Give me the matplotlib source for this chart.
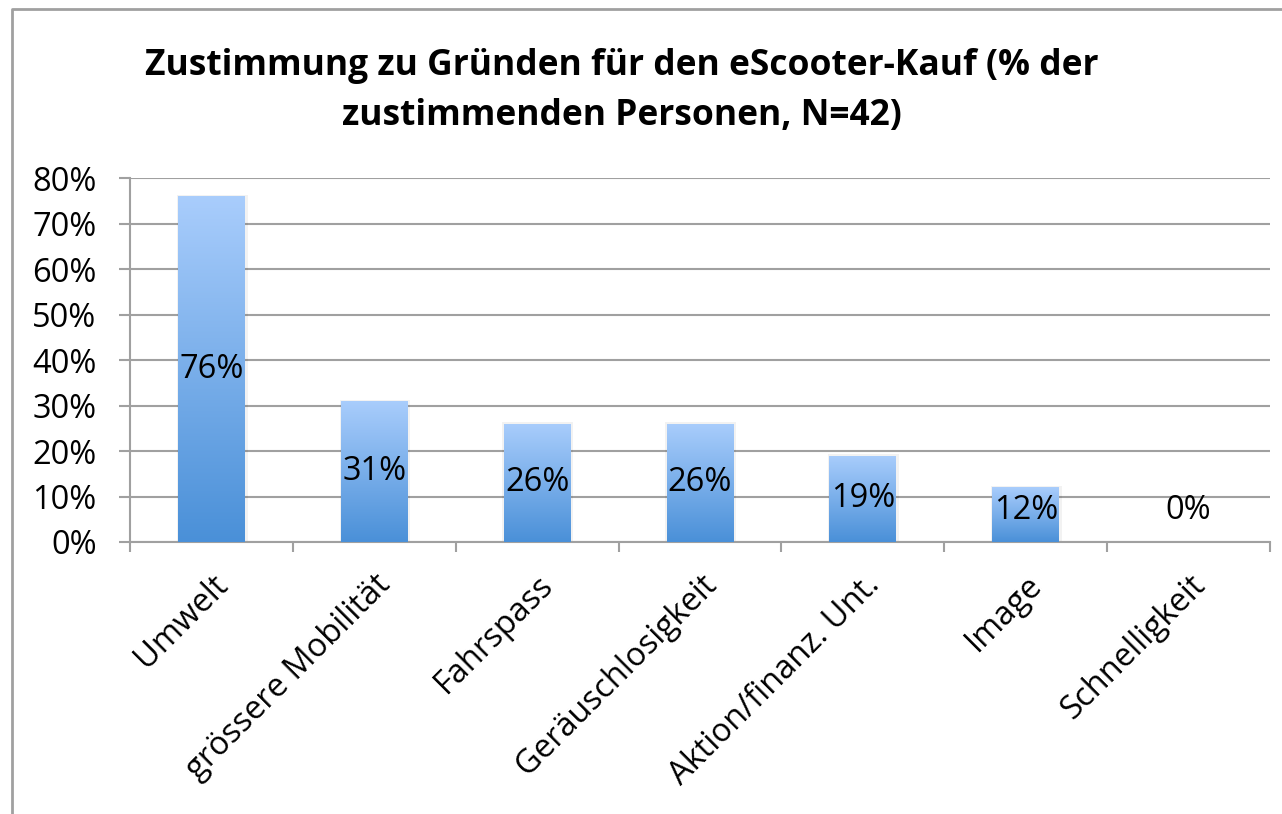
import numpy as np
import matplotlib
matplotlib.use('Agg')
import matplotlib.pyplot as plt
from matplotlib.lines import Line2D
from matplotlib.colors import LinearSegmentedColormap
from matplotlib.transforms import ScaledTranslation

plt.rcParams['font.family'] = ['Open Sans', 'DejaVu Sans']

categories = ['Umwelt', 'grössere Mobilität', 'Fahrspass', 'Geräuschlosigkeit',
              'Aktion/finanz. Unt.', 'Image', 'Schnelligkeit']
values = [76, 31, 26, 26, 19, 12, 0]
y_ticks = [0, 10, 20, 30, 40, 50, 60, 70, 80]
title = 'Zustimmung zu Gründen für den eScooter-Kauf (% der\nzustimmenden Personen, N=42)'

W, H = 1282, 814
fig = plt.figure(figsize=(W / 100, H / 100), dpi=100)
ax = fig.add_axes([130 / W, 1 - 542 / H, 1140 / W, 364 / H])

grey = '#a0a0a0'
x = np.arange(len(categories))
bars = ax.bar(x, values, width=0.41, color='none', zorder=3)

# gradient fill, light at top, darker at bottom
cmap = LinearSegmentedColormap.from_list('g', ['#4a90d8', '#a9cdfc'])
grad = np.linspace(0, 1, 256).reshape(-1, 1)
for b in bars:
    if b.get_height() <= 0:
        continue
    x0, w, h = b.get_x(), b.get_width(), b.get_height()
    # soft shadow
    ax.bar(x0 + w / 2 + 0.004, h + 0.3, width=w + 0.025, color='#000000', alpha=0.05, zorder=2)
    im = ax.imshow(grad, cmap=cmap, origin='lower', aspect='auto',
                   extent=[x0, x0 + w, 0, h], zorder=3)
    im.set_clip_path(b)

for xi, v in zip(x, values):
    ax.text(xi, max(v / 2, 7), f'{v}%', ha='center', va='center',
            fontsize=23.5, color='black', zorder=5)

ax.set_xlim(-0.5, len(categories) - 0.5)
ax.set_ylim(0, 80)
ax.set_yticks(y_ticks)
ax.set_yticklabels([f'{t}%' for t in y_ticks], fontsize=23.5)
ax.yaxis.grid(True, color=grey, linewidth=1.5, zorder=1)
ax.set_axisbelow(True)

ax.set_xticks(x)
ax.set_xticklabels(categories, rotation=45, ha='right', rotation_mode='anchor', fontsize=23.5)
for lab in ax.get_xticklabels():
    lab.set_transform(lab.get_transform() + ScaledTranslation(-0.07, 0, fig.dpi_scale_trans))
ax.set_xticks(np.arange(-0.5, len(categories)), minor=True)
ax.tick_params(axis='x', which='major', length=0, pad=19)
ax.tick_params(axis='x', which='minor', length=7, width=1.5, color=grey)
ax.tick_params(axis='y', length=8, width=1.5, color=grey, pad=16)

for s in ['top', 'right']:
    ax.spines[s].set_visible(False)
for s in ['left', 'bottom']:
    ax.spines[s].set_color(grey)
    ax.spines[s].set_linewidth(1.5)

fig.text(0.485, 1 - 91 / H, title, ha='center', va='center', fontsize=25.5,
         fontweight='bold', linespacing=1.5)

# outer chart frame
fig.add_artist(Line2D([12 / W, 12 / W, 1.0], [0, 1 - 9 / H, 1 - 9 / H],
                      transform=fig.transFigure, color=grey, linewidth=2))

fig.savefig('out.png', dpi=100)
